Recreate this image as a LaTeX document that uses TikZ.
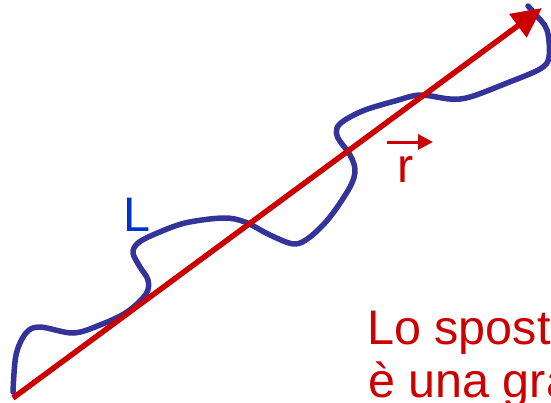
\documentclass[tikz,border=0pt]{standalone}
\usepackage{fontspec}
\setmainfont{Liberation Sans}
\usetikzlibrary{arrows.meta}
\definecolor{pathblue}{RGB}{51,51,153}
\definecolor{lblue}{RGB}{0,51,204}
\definecolor{vred}{RGB}{204,0,0}
\tikzset{
  pathline/.style={draw=pathblue, line width=5.5pt, line cap=round, line join=round},
  vecline/.style={draw=vred, line width=5.5pt, -{Triangle[length=30pt,width=28pt]}},
  smallvec/.style={draw=vred, line width=3pt, -{Triangle[length=15pt,width=15pt]}},
  bigtext/.style={anchor=base west, inner sep=0pt, font=\fontsize{48.5}{53}\selectfont}
}
\begin{document}
\begin{tikzpicture}[x=1pt,y=-1pt]
\useasboundingbox (0,0) rectangle (551,402);
\clip (0,0) rectangle (551,402);
\draw[pathline] plot[smooth, tension=0.55] coordinates {
(13,392) (16,355) (26,333) (40,327) (73,333) (100,325) (127,312) (146,294) (148,280) (140,267) (133,253) (138,243) (155,234) (185,223) (223,218) (245,222) (270,235) (294,244) (310,237) (330,217) (350,187) (355,170) (350,155) (338,138) (337,128) (345,120) (365,110) (395,101) (420,95) (450,99) (470,97) (507,83) (540,69) (549,57) (547,30) (535,14) (528,6)};
\coordinate (rs) at (13,398);
\coordinate (re) at (542,8);
\draw[vecline] (rs) -- (re);
\node[bigtext, text=lblue] (L) at (123,231) {L};
\node[bigtext, text=vred] (r) at (397,182) {r};
\coordinate (va) at (387,142);
\coordinate (vb) at (433,142);
\draw[smallvec] (va) -- (vb);
\node[bigtext, text=vred] (t1) at (367,344) {Lo spost};
\node[bigtext, text=vred] (t2) at (368,397) {è una gra};
\end{tikzpicture}
\end{document}
